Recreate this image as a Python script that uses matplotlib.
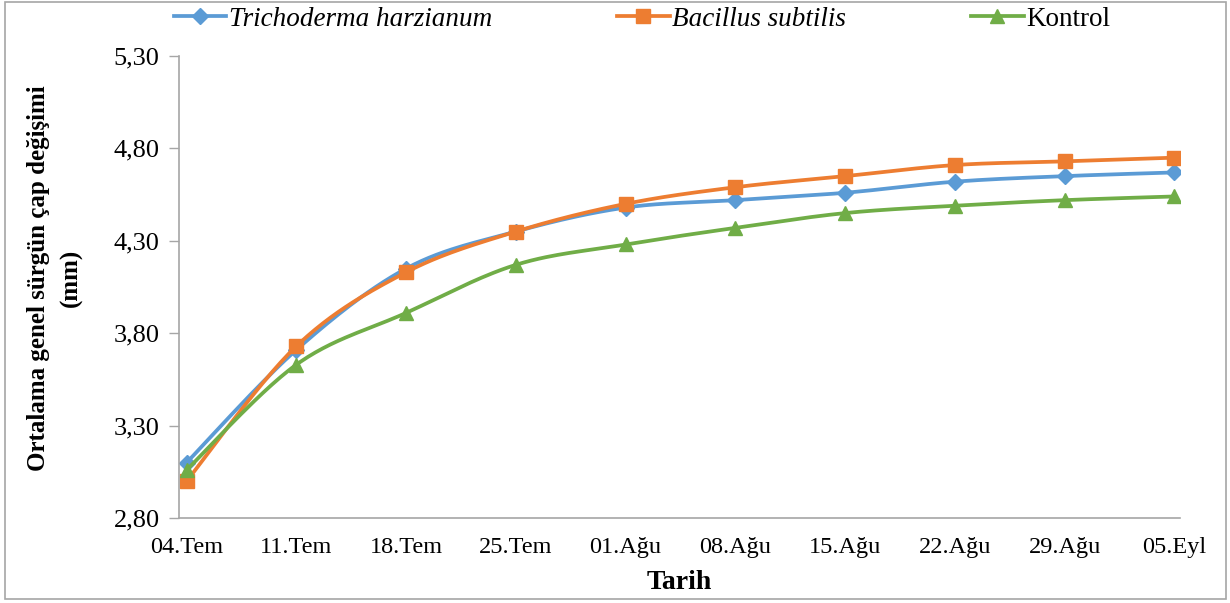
import matplotlib
matplotlib.use('Agg')
import matplotlib.pyplot as plt
from matplotlib.patches import Rectangle
import numpy as np

# sampling dates and mean shoot diameter change (mm)
dates = ['04.Tem', '11.Tem', '18.Tem', '25.Tem', '01.Ağu',
         '08.Ağu', '15.Ağu', '22.Ağu', '29.Ağu', '05.Eyl']
trichoderma = [3.10, 3.71, 4.15, 4.35, 4.48, 4.52, 4.56, 4.62, 4.65, 4.67]
bacillus = [3.00, 3.73, 4.13, 4.35, 4.50, 4.59, 4.65, 4.71, 4.73, 4.75]
kontrol = [3.06, 3.63, 3.91, 4.17, 4.28, 4.37, 4.45, 4.49, 4.52, 4.54]

y_ticks = [2.80, 3.30, 3.80, 4.30, 4.80, 5.30]


def smooth(xs, ys, n=30):
    # bezier smoothing through every point (spreadsheet-style smoothed line)
    p = np.column_stack([xs, ys]).astype(float)
    ext = np.vstack([p[0], p, p[-1]])
    t = np.linspace(0, 1, n)[:, None]
    out = []
    for i in range(len(p) - 1):
        p0, p3 = p[i], p[i + 1]
        c1 = p0 + (ext[i + 2] - ext[i]) / 6
        c2 = p3 - (ext[i + 3] - ext[i + 1]) / 6
        seg = ((1 - t) ** 3) * p0 + 3 * ((1 - t) ** 2) * t * c1 + 3 * (1 - t) * t ** 2 * c2 + t ** 3 * p3
        out.append(seg if i == 0 else seg[1:])
    out = np.vstack(out)
    return out[:, 0], out[:, 1]


plt.rcParams['font.family'] = ['Liberation Serif', 'DejaVu Serif']

fig = plt.figure(figsize=(12.30, 6.03), dpi=100)
ax = fig.add_axes([0.1455, 0.141, 0.8138, 0.7661])

x = np.arange(len(dates))
series = [
    (trichoderma, 'Trichoderma harzianum', '#5B9BD5', 'D', 8.5),
    (bacillus, 'Bacillus subtilis', '#ED7D31', 's', 10.5),
    (kontrol, 'Kontrol', '#70AD47', '^', 10),
]
handles = []
for vals, name, col, mk, ms in series:
    sx, sy = smooth(x, vals)
    ax.plot(sx, sy, color=col, lw=2.7, solid_capstyle='round')
    ax.plot(x, vals, ls='none', marker=mk, ms=ms, color=col)
    h, = plt.plot([], [], color=col, lw=2.7, marker=mk, ms=ms)
    handles.append(h)

ax.set_xlim(-0.07, 9.05)
ax.set_ylim(2.80, 5.30)
ax.set_xticks(x)
ax.set_xticklabels(dates)
ax.set_yticks(y_ticks)
ax.set_yticklabels([f'{v:.2f}'.replace('.', ',') for v in y_ticks])
ax.tick_params(axis='x', length=0, pad=14, labelsize=17.5)
ax.tick_params(axis='y', length=7, width=1, color='#A6A6A6', pad=7, labelsize=19)

for s in ['top', 'right']:
    ax.spines[s].set_visible(False)
for s in ['left', 'bottom']:
    ax.spines[s].set_color('#A6A6A6')
    ax.spines[s].set_linewidth(1.2)

ax.set_xlabel('Tarih', fontsize=20, fontweight='bold', labelpad=8)
fig.text(55 / 1230, 1 - 278 / 603, 'Ortalama genel sürgün çap değişimi\n(mm)',
         rotation=90, ha='center', va='center', fontsize=18, fontweight='bold',
         linespacing=1.5)

leg = fig.legend(handles, [s[1] for s in series], loc='center',
                 bbox_to_anchor=(642 / 1230, 1 - 19 / 603), ncol=3, frameon=False,
                 fontsize=19.5, handlelength=1.95, handletextpad=0.1,
                 columnspacing=4.6)
for t in leg.get_texts()[:2]:
    t.set_style('italic')

# grey frame around the whole chart
fig.patches.append(Rectangle((5 / 1230, 4 / 603), 1221 / 1230, 597 / 603,
                             transform=fig.transFigure, fill=False,
                             edgecolor='#A6A6A6', lw=1.2))

plt.savefig('out.png', dpi=100)
